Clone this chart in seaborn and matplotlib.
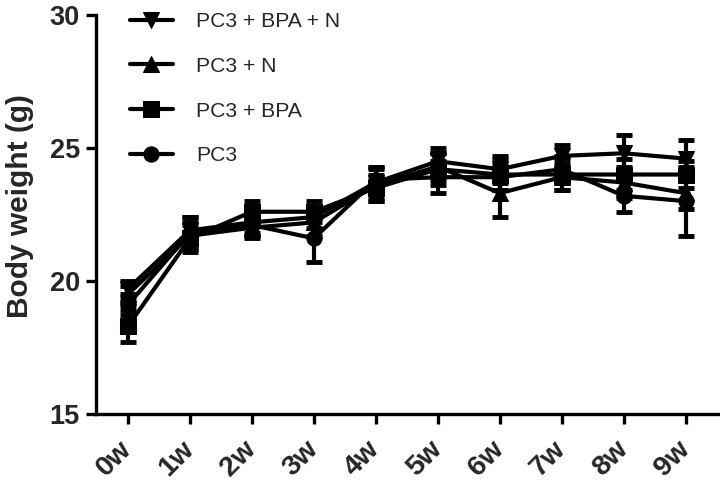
import numpy as np
import pandas as pd
import seaborn as sns
from matplotlib import pyplot as plt

weeks = ['0w', '1w', '2w', '3w', '4w', '5w', '6w', '7w', '8w', '9w']
groups = ['PC3 + BPA + N', 'PC3 + N', 'PC3 + BPA', 'PC3']

pc3_bpa_n = [19.7, 21.9, 22.2, 22.4, 23.7, 24.5, 24.2, 24.7, 24.8, 24.6]
pc3_bpa_n_err = [0.3, 0.5, 0.4, 0.4, 0.6, 0.5, 0.5, 0.4, 0.7, 0.7]
pc3_n = [19.5, 21.7, 22.0, 22.2, 23.6, 24.3, 23.3, 23.9, 23.7, 23.3]
pc3_n_err = [0.3, 0.5, 0.4, 0.5, 0.6, 0.5, 0.9, 0.5, 0.6, 0.6]
pc3_bpa = [18.3, 21.6, 22.6, 22.6, 23.5, 24.2, 24.0, 24.0, 24.0, 24.0]
pc3_bpa_err = [0.6, 0.5, 0.4, 0.4, 0.5, 0.6, 0.6, 0.6, 0.6, 0.5]
pc3 = [19.1, 21.8, 22.1, 21.6, 23.8, 23.9, 23.9, 24.2, 23.2, 23.0]
pc3_err = [0.4, 0.6, 0.4, 0.9, 0.5, 0.6, 0.5, 0.5, 0.6, 1.3]

means = [pc3_bpa_n, pc3_n, pc3_bpa, pc3]
errs = [pc3_bpa_n_err, pc3_n_err, pc3_bpa_err, pc3_err]
markers = ['v', '^', 's', 'o']
sizes = [12, 12, 11, 11]

rows = []
for g, m, e in zip(groups, means, errs):
    for i, w in enumerate(weeks):
        rows.append({'week': i, 'label': w, 'group': g, 'weight': m[i], 'sem': e[i]})
df = pd.DataFrame(rows)

sns.set_theme(style='ticks')
plt.rcParams['font.family'] = ['Liberation Sans', 'DejaVu Sans']

fig = plt.figure(figsize=(7.2, 4.84), dpi=100)
ax = fig.add_axes([0.133, 0.145, 0.864, 0.824])

# draw in reverse so the first group ends on top
for g, mk, ms in reversed(list(zip(groups, markers, sizes))):
    d = df[df['group'] == g]
    ax.errorbar(d['week'], d['weight'], yerr=d['sem'], fmt='none', ecolor='black',
                elinewidth=3, capsize=6, capthick=3.5, zorder=2)
    sns.lineplot(data=d, x='week', y='weight', color='black', marker=mk, markersize=ms,
                 markeredgecolor='black', linewidth=3, label=g, ax=ax, zorder=3)

ax.set_xlim(-0.52, 9.52)
ax.set_ylim(15, 30)
ax.set_yticks([15, 20, 25, 30])
ax.set_xticks(range(len(weeks)))
ax.set_xticklabels(weeks, rotation=45, ha='right', va='center', rotation_mode='anchor')
ax.set_xlabel('')
ax.set_ylabel('Body weight (g)', fontsize=21.5, fontweight='bold')
ax.yaxis.set_label_coords(-0.1, 0.52)

for lab in ax.get_xticklabels():
    lab.set_fontsize(20.5)
    lab.set_fontweight('bold')
for lab in ax.get_yticklabels():
    lab.set_fontsize(19.5)
    lab.set_fontweight('bold')

ax.tick_params(axis='both', width=2.4, length=7.5, color='black')
ax.tick_params(axis='x', pad=15)
ax.tick_params(axis='y', pad=4)
sns.despine(ax=ax)
for s in ['left', 'bottom']:
    ax.spines[s].set_linewidth(2.4)
    ax.spines[s].set_color('black')

handles, labels = ax.get_legend_handles_labels()
order = [labels.index(g) for g in groups]
ax.legend([handles[i] for i in order], [labels[i] for i in order], frameon=False,
          loc='upper left', bbox_to_anchor=(0.025, 1.055), fontsize=15.2,
          labelspacing=1.22, handlelength=2.0, handletextpad=1.1)

fig.savefig('out.png', dpi=100)
